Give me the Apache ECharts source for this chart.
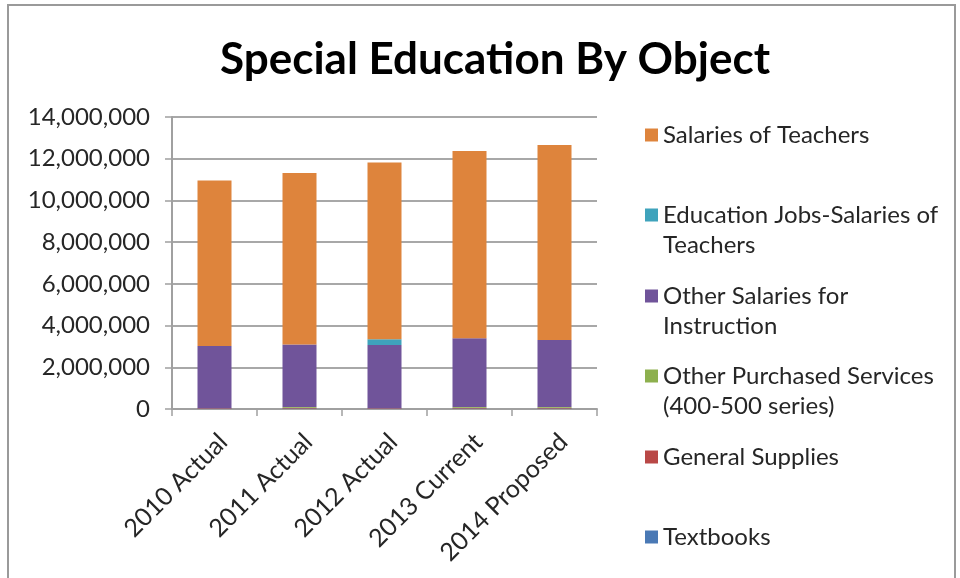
<!DOCTYPE html>
<html>
<head>
<meta charset="utf-8">
<script src="https://cdn.jsdelivr.net/npm/echarts@6/dist/echarts.min.js"></script>
<style>
  html, body { margin: 0; padding: 0; background: #fff; }
  #chart { width: 960px; height: 578px; }
</style>
</head>
<body>
<div id="chart"></div>
<script>
// Budget years along the category axis
const years = ['2010 Actual', '2011 Actual', '2012 Actual', '2013 Current', '2014 Proposed'];

// Spending by object, in dollars (stacked bottom to top)
const textbooks = [10000, 20000, 10000, 20000, 20000];
const generalSupplies = [20000, 40000, 20000, 40000, 40000];
const otherPurchasedServices = [10000, 40000, 10000, 40000, 40000];
const otherSalariesInstruction = [2980000, 2990000, 3030000, 3290000, 3210000];
const educationJobsSalaries = [0, 0, 270000, 0, 0];
const salariesOfTeachers = [7940000, 8220000, 8480000, 8980000, 9350000];

// Value axis ticks
const yTicks = [0, 2000000, 4000000, 6000000, 8000000, 10000000, 12000000, 14000000];

const FONT = 'Lato, "Liberation Sans", sans-serif';
const LABEL_SIZE = 24;

const seriesDefs = [
  { name: 'Textbooks', data: textbooks, color: '#4A79B5' },
  { name: 'General Supplies', data: generalSupplies, color: '#B94846' },
  { name: 'Other Purchased Services\n(400-500 series)', data: otherPurchasedServices, color: '#8DB04E' },
  { name: 'Other Salaries for\nInstruction', data: otherSalariesInstruction, color: '#70549A' },
  { name: 'Education Jobs-Salaries of\nTeachers', data: educationJobsSalaries, color: '#3FA3BC' },
  { name: 'Salaries of Teachers', data: salariesOfTeachers, color: '#DE843C' }
];

// Legend entries listed top to bottom, each in its own evenly spaced slot
const legendOrder = [5, 4, 3, 2, 1, 0];
const legendFirstLine = [135, 215, 296, 376, 457, 537];
// Square marker sitting at the top of a taller box so it lines up with a first text line
const tallSquare = 'path://M0,0L13,0L13,13L0,13Z M0,43L0.001,43L0,43Z';

const legends = legendOrder.map((idx, i) => {
  const def = seriesDefs[idx];
  const twoLine = def.name.indexOf('\n') >= 0;
  return {
    data: [def.name],
    left: 645,
    top: legendFirstLine[i] - 15,
    orient: 'vertical',
    padding: 0,
    itemWidth: 13,
    itemHeight: twoLine ? 43 : 13,
    icon: twoLine ? tallSquare : 'rect',
    symbolKeepAspect: false,
    selectedMode: false,
    textStyle: { fontFamily: FONT, fontSize: LABEL_SIZE, color: '#262626', lineHeight: 30 }
  };
});

const chart = echarts.init(document.getElementById('chart'));
chart.setOption({
  backgroundColor: '#fff',
  animation: false,
  title: {
    text: 'Special Education By Object',
    left: 490,
    textAlign: 'center',
    top: 33,
    textStyle: { fontFamily: FONT, fontSize: 44, fontWeight: 'bold', color: '#000' }
  },
  graphic: [{
    type: 'rect',
    shape: { x: 8, y: 5, width: 947, height: 600 },
    style: { fill: 'none', stroke: '#9a9a9a', lineWidth: 2 },
    silent: true
  }],
  legend: legends,
  grid: { left: 172, right: 363, top: 117, bottom: 169, containLabel: false },
  xAxis: {
    type: 'category',
    data: years,
    axisLine: { lineStyle: { color: '#a0a0a0', width: 2 } },
    axisTick: { show: true, length: 7, lineStyle: { color: '#a0a0a0', width: 1.5 } },
    axisLabel: {
      rotate: 45, margin: 20, align: 'right', verticalAlign: 'top',
      fontFamily: FONT, fontSize: 25, color: '#262626'
    }
  },
  yAxis: {
    type: 'value',
    min: yTicks[0],
    max: yTicks[yTicks.length - 1],
    interval: yTicks[1] - yTicks[0],
    axisLine: { show: true, lineStyle: { color: '#a0a0a0', width: 2 } },
    axisTick: { show: true, length: 7, lineStyle: { color: '#a0a0a0', width: 1.5 } },
    splitLine: { lineStyle: { color: '#a8a8a8', width: 2 } },
    axisLabel: {
      margin: 22,
      fontFamily: FONT, fontSize: LABEL_SIZE, color: '#262626',
      formatter: v => v.toLocaleString('en-US')
    }
  },
  series: seriesDefs.map(def => ({
    name: def.name,
    type: 'bar',
    stack: 'total',
    data: def.data,
    barWidth: 34,
    itemStyle: { color: def.color },
    emphasis: { disabled: true }
  }))
});
</script>
</body>
</html>
